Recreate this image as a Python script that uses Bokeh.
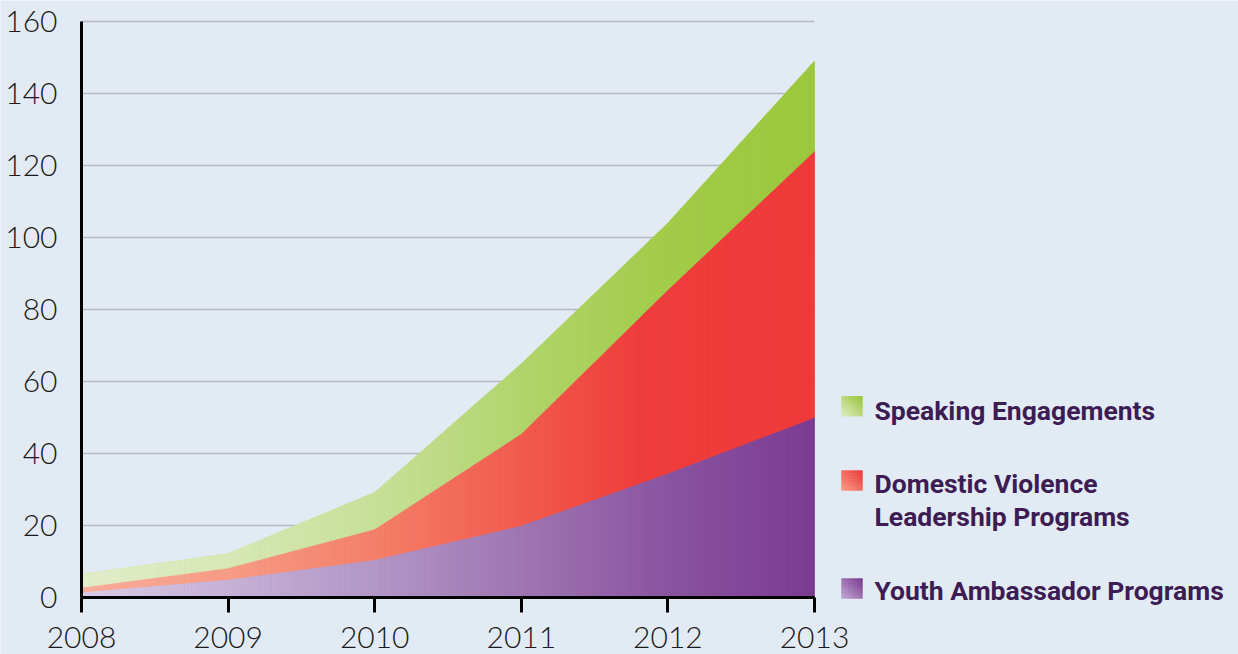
import numpy as np
from bokeh.plotting import figure
from bokeh.models import FixedTicker, ColumnDataSource, Label
from bokeh.embed import file_html
from bokeh.resources import INLINE

# ---------------- data ----------------
years = [2008, 2009, 2010, 2011, 2012, 2013]
youth = [1.5, 5.0, 10.5, 20.0, 34.5, 50.0]
domestic = [1.3, 3.2, 8.5, 25.5, 51.0, 74.0]
speaking = [3.7, 4.0, 10.2, 19.4, 18.5, 25.0]
series_names = ["Youth Ambassador Programs",
                "Domestic Violence\nLeadership Programs",
                "Speaking Engagements"]
y_ticks = [0, 20, 40, 60, 80, 100, 120, 140, 160]

# ---------------- style / layout ----------------
BG = "#e2eaf4"
GRID = "#b4b9c1"
TXT = "#3c1c53"
W, H = 1238, 654
LEFT_PX, TOP_PX = 81, 21   # pixel column of the first year, pixel row of 160
AXIS_Y = 597               # pixel row of the value 0
RIGHT_YEAR_PX = 814        # pixel column of the last year
PX_PER_YEAR = (RIGHT_YEAR_PX - LEFT_PX) / (years[-1] - years[0])
PX_PER_UNIT = (AXIS_Y - TOP_PX) / 160.0
X_START = years[0] - LEFT_PX / PX_PER_YEAR
X_END = years[0] + (W - LEFT_PX) / PX_PER_YEAR
Y_START = -(H - AXIS_Y) / PX_PER_UNIT
Y_END = 160 + TOP_PX / PX_PER_UNIT

stops = [
    [(2008, "#dacde7"), (2010, "#b397c7"), (2011, "#9f76b2"), (2012, "#8a54a1"), (2013, "#7b3a91")],
    [(2008, "#f8ae9c"), (2009, "#f79c86"), (2010, "#f4806a"), (2011, "#f15b4e"), (2011.8, "#ef3d3c"), (2013, "#ef3a3a")],
    [(2008, "#e2edca"), (2009, "#d8e8b6"), (2010, "#c7e09a"), (2011, "#b1d56c"), (2012, "#a2cb48"), (2013, "#9bc83d")],
]
mid_colors = ["#9f76b2", "#f15b4e", "#b1d56c"]
corner_colors = [("#bba2cc", "#7b3a91"), ("#f7957f", "#ef3a3a"), ("#d9e8b9", "#9bc83c")]


def hex2rgb(h):
    h = h.lstrip("#")
    return np.array([int(h[i:i + 2], 16) for i in (0, 2, 4)], dtype=float)


def rgb2hex(c):
    c = np.clip(np.round(c), 0, 255).astype(int)
    return "#%02x%02x%02x" % tuple(c)


def color_at(st, x):
    xs = [s[0] for s in st]
    cols = np.array([hex2rgb(s[1]) for s in st])
    return rgb2hex([np.interp(x, xs, cols[:, k]) for k in range(3)])


def px2x(px):
    return years[0] + (px - LEFT_PX) / PX_PER_YEAR


def px2y(py):
    return (AXIS_Y - py) / PX_PER_UNIT


p = figure(width=W, height=H, output_backend="svg", toolbar_location=None,
           x_range=(X_START, X_END), y_range=(Y_START, Y_END),
           min_border_left=0, min_border_top=0, min_border_bottom=0,
           min_border_right=0)
p.background_fill_color = BG
p.border_fill_color = BG
p.outline_line_color = None
p.xgrid.visible = False
p.ygrid.visible = False

# grid lines (only over the data span)
gt = y_ticks[1:]
p.segment(x0=[years[0]] * len(gt), x1=[years[-1]] * len(gt), y0=gt, y1=gt,
          line_color=GRID, line_width=1.6)

# stacked areas (solid base)
src = ColumnDataSource(dict(year=years, youth=youth, domestic=domestic, speaking=speaking))
p.varea_stack(stackers=["youth", "domestic", "speaking"], x="year", color=mid_colors, source=src)

# gradient overlay strips computed from the same stacked data
xf = np.linspace(years[0], years[-1], 221)
cum = np.zeros(len(years))
for vals, st in zip([youth, domestic, speaking], stops):
    top = cum + np.array(vals)
    b = np.interp(xf, years, cum)
    t = np.interp(xf, years, top)
    pxs, pys, cols = [], [], []
    for i in range(len(xf) - 1):
        pxs.append([xf[i], xf[i + 1], xf[i + 1], xf[i]])
        pys.append([b[i], b[i + 1], t[i + 1], t[i]])
        cols.append(color_at(st, 0.5 * (xf[i] + xf[i + 1])))
    p.patches(xs=pxs, ys=pys, fill_color=cols, line_color=cols, line_width=0.6)
    cum = top

# axes (fixed inside the frame so nothing is clipped)
for ax in (p.xaxis[0], p.yaxis[0]):
    ax.axis_line_color = "black"
    ax.axis_line_width = 3
    ax.minor_tick_line_color = None
    ax.major_label_text_color = "#1a1a1a"
    ax.major_label_text_font = "Lato Light"
    ax.major_label_text_font_size = "30px"

p.xaxis.fixed_location = 0
p.xaxis.ticker = FixedTicker(ticks=years)
p.xaxis.bounds = (years[0], years[-1])
p.xaxis.major_tick_line_color = "black"
p.xaxis.major_tick_line_width = 3
p.xaxis.major_tick_out = 15
p.xaxis.major_tick_in = 0
p.xaxis.major_label_standoff = 14

p.yaxis.fixed_location = years[0]
p.yaxis.ticker = FixedTicker(ticks=y_ticks)
p.yaxis.bounds = (0, 160)
p.yaxis.major_tick_line_color = None
p.yaxis.major_tick_out = 0
p.yaxis.major_tick_in = 0
p.yaxis.major_label_standoff = 24

# legend (top to bottom: speaking, domestic, youth)
sq_tops = [395.7, 470.0, 578.0]
sq_left = 841.0
order = [2, 1, 0]
n = 7
cw = 21.0 / n
ch = 20.0 / n
for row, idx in enumerate(order):
    c0 = hex2rgb(corner_colors[idx][0])
    c1 = hex2rgb(corner_colors[idx][1])
    cx, cy, cc = [], [], []
    for i in range(n):
        for j in range(n):
            f = (i + (n - 1 - j)) / (2.0 * (n - 1))
            cx.append(px2x(sq_left + (i + 0.5) * cw))
            cy.append(px2y(sq_tops[row] + (j + 0.5) * ch))
            cc.append(rgb2hex(c0 + (c1 - c0) * f))
    p.rect(x=cx, y=cy, width=cw + 0.4, height=ch + 0.4,
           width_units="screen", height_units="screen", fill_color=cc, line_color=None)

baselines = [[409.5], [482.5, 516.0], [589.5]]
for row, idx in enumerate(order):
    lines = series_names[idx].split("\n")
    for ln, bl in zip(lines, baselines[row]):
        p.add_layout(Label(x=px2x(874), y=px2y(bl), text=ln, text_font="Roboto",
                           text_font_style="bold", text_font_size="26.5px",
                           text_color=TXT, text_baseline="alphabetic", text_align="left"))

open("out.html", "w").write(file_html(p, INLINE))
